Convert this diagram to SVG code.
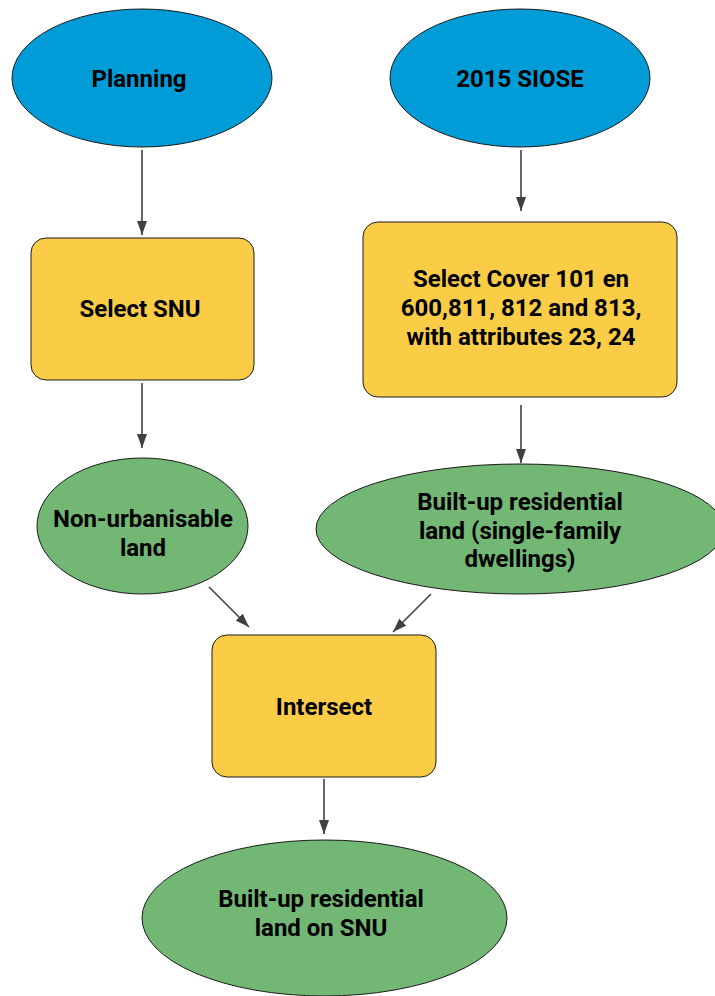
<svg xmlns="http://www.w3.org/2000/svg" width="715" height="996" viewBox="0 0 715 996">
<style>
.blue{fill:#009CD8;stroke:#1a1a1a;stroke-width:1}
.yellow{fill:#FBCD46;stroke:#1a1a1a;stroke-width:1}
.green{fill:#72B874;stroke:#1a1a1a;stroke-width:1}
text{font-family:Roboto,"Liberation Sans",sans-serif;font-weight:700;font-size:24px;fill:#000;text-anchor:middle}
.conn line{stroke:#404040;stroke-width:1.6;fill:none}
</style>
<defs>
<marker id="arr" markerUnits="userSpaceOnUse" markerWidth="14" markerHeight="10" refX="14" refY="5" orient="auto">
<path d="M0,0 L14,5 L0,10 z" fill="#404040"/>
</marker>
</defs>
<rect width="715" height="996" fill="#fff"/>
<g class="conn">
<line x1="142" y1="150" x2="142" y2="235" marker-end="url(#arr)"/>
<line x1="142" y1="383" x2="142" y2="448" marker-end="url(#arr)"/>
<line x1="521" y1="150" x2="521" y2="211" marker-end="url(#arr)"/>
<line x1="521" y1="405" x2="521" y2="463" marker-end="url(#arr)"/>
<line x1="209" y1="587" x2="249" y2="627" marker-end="url(#arr)"/>
<line x1="431" y1="594" x2="393" y2="632" marker-end="url(#arr)"/>
<line x1="324" y1="779" x2="324" y2="834" marker-end="url(#arr)"/>
</g>
<g id="planning">
<ellipse class="blue" cx="142" cy="78" rx="130" ry="69"/>
<text x="139" y="87">Planning</text>
</g>
<g id="siose">
<ellipse class="blue" cx="520" cy="78" rx="130" ry="69"/>
<text x="520" y="87">2015 SIOSE</text>
</g>
<g id="select-snu">
<rect class="yellow" x="31" y="238" width="223" height="142" rx="15"/>
<text x="140" y="317">Select SNU</text>
</g>
<g id="select-cover">
<rect class="yellow" x="363" y="222" width="314" height="175" rx="15"/>
<text x="521" y="287">Select Cover 101 en</text>
<text x="521" y="316">600,811, 812 and 813,</text>
<text x="521" y="345">with attributes 23, 24</text>
</g>
<g id="non-urbanisable">
<ellipse class="green" cx="142.5" cy="526" rx="105.5" ry="68"/>
<text x="143" y="527">Non-urbanisable</text>
<text x="143" y="556">land</text>
</g>
<g id="built-up">
<ellipse class="green" cx="520" cy="529" rx="204" ry="65"/>
<text x="520" y="510">Built-up residential</text>
<text x="520" y="539">land (single-family</text>
<text x="520" y="567">dwellings)</text>
</g>
<g id="intersect">
<rect class="yellow" x="212" y="635" width="224" height="142" rx="15"/>
<text x="324" y="715">Intersect</text>
</g>
<g id="result">
<ellipse class="green" cx="324.5" cy="918" rx="182.5" ry="78"/>
<text x="321" y="907">Built-up residential</text>
<text x="321" y="936">land on SNU</text>
</g>
</svg>
